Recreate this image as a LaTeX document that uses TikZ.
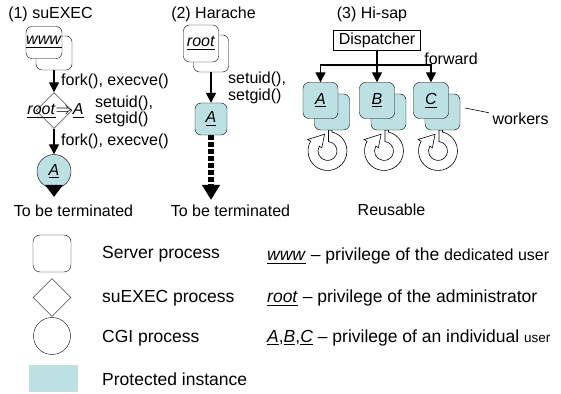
\documentclass[tikz,border=0pt]{standalone}
\usepackage{amsmath}
\usepackage{fontspec}
\setmainfont{Liberation Sans}
\usepackage{tikz}
\usetikzlibrary{positioning}
\usetikzlibrary{shapes.geometric}
\usetikzlibrary{arrows.meta}

\definecolor{instfill}{RGB}{189,224,227}

\begin{document}
\begin{tikzpicture}[x=1pt,y=1pt,font=\fontsize{16}{16}\selectfont,
        proc/.style={draw,rounded corners=6pt,inner sep=0pt,
            minimum width=36pt,minimum height=34pt},
        srv/.style={proc,fill=white},
        inst/.style={proc,fill=instfill},
        cgi/.style={circle,draw,fill=instfill,inner sep=0pt,minimum size=34pt},
        sux/.style={diamond,draw,inner sep=0pt,minimum width=36pt,minimum height=36pt},
        cyc/.style={draw,fill=white,line width=0.6pt},
        legtxt/.style={anchor=base west,inner sep=0pt,font=\fontsize{17.5}{17.5}\selectfont}]
        \useasboundingbox (0,0) rectangle (561,393);

        % titles
        \node (t1) at (50.5,379) {(1) suEXEC};
        \node (t2) at (213.5,379) {(2) Harache};
        \node (t3) at (372,379) {(3) Hi-sap};

        % (1) suEXEC
        \node[srv] (wwwb) at (54,340) {};
        \node[srv,minimum height=32pt] (www) at (44,350.5) {\underline{\textit{www}}};
        \node[sux] (dia) at (54,282.5) {};
        \node[inner sep=0pt] (diatxt) at (55.5,282) {\underline{\textit{root}}$\Rightarrow$\underline{\textit{A}}};
        \node[cgi] (cgi1) at (54,221.5) {\underline{\textit{A}}};
        \coordinate (end1) at (54,196);
        \node[anchor=west,inner sep=0pt] (fk1) at (61,312) {fork(), execve()};
        \node[anchor=west,inner sep=0pt] (fk2) at (61,251.5) {fork(), execve()};
        \node[anchor=west,inner sep=0pt,align=left] (su1) at (95,282) {setuid(),\\setgid()};
        \node (term1) at (73.5,182) {To be terminated};

        % (2) Harache
        \node[srv,minimum width=35pt,minimum height=37pt] (rootb) at (211,339.5) {};
        \node[srv,minimum width=35pt,minimum height=37pt] (root) at (201,349.5) {\underline{\textit{root}}};
        \node[inst,minimum width=32pt,minimum height=32pt] (inst1) at (211,274) {\underline{\textit{A}}};
        \coordinate (end2) at (211,193);
        \node[anchor=west,inner sep=0pt,align=left,font=\fontsize{16}{17}\selectfont] (su2) at (228,305.5) {setuid(),\\setgid()};
        \node (term2) at (230.5,182) {To be terminated};

        % (3) Hi-sap
        \node[draw,inner sep=0pt,minimum width=87pt,minimum height=20pt] (disp) at (377,353) {Dispatcher};
        \coordinate (bus) at (377,328);
        \node (fwd) at (451,334) {forward};

        % recycling loops under the workers
        \coordinate (ringA) at (327.5,242);
        \coordinate (ringB) at (384,242);
        \coordinate (ringC) at (438,242);
        \draw[cyc] ([shift={(1,21)}]ringA) -- ([shift={(84:9.5)}]ringA)
            arc[start angle=84,end angle=-210,radius=9.5]
            -- ([shift={(150:6.5)}]ringA) -- ([shift={(100:17)}]ringA)
            -- ([shift={(150:23)}]ringA) -- ([shift={(150:19.5)}]ringA)
            arc[start angle=-210,end angle=76.7,radius=19.5]
            -- ([shift={(4.5,21)}]ringA) -- cycle;
        \draw[cyc] ([shift={(1,21)}]ringB) -- ([shift={(84:9.5)}]ringB)
            arc[start angle=84,end angle=-210,radius=9.5]
            -- ([shift={(150:6.5)}]ringB) -- ([shift={(100:17)}]ringB)
            -- ([shift={(150:23)}]ringB) -- ([shift={(150:19.5)}]ringB)
            arc[start angle=-210,end angle=76.7,radius=19.5]
            -- ([shift={(4.5,21)}]ringB) -- cycle;
        \draw[cyc] ([shift={(1,21)}]ringC) -- ([shift={(84:9.5)}]ringC)
            arc[start angle=84,end angle=-210,radius=9.5]
            -- ([shift={(150:6.5)}]ringC) -- ([shift={(100:17)}]ringC)
            -- ([shift={(150:23)}]ringC) -- ([shift={(150:19.5)}]ringC)
            arc[start angle=-210,end angle=76.7,radius=19.5]
            -- ([shift={(4.5,21)}]ringC) -- cycle;

        \begin{scope}[every node/.style={inst,minimum width=35pt,minimum height=36pt}]
            \node (wab) at (332,281) {};
            \node (wa) at (320.5,292.5) {\underline{\textit{A}}};
            \node (wbb) at (388.5,281) {};
            \node (wb) at (377,292.5) {\underline{\textit{B}}};
            \node (wcb) at (442.5,281) {};
            \node (wc) at (431,292.5) {\underline{\textit{C}}};
        \end{scope}
        \coordinate (wk) at (465,285);
        \node (wklab) at (520.5,274) {workers};
        \node (reuse) at (391.5,183) {Reusable};

        % connectors
        \begin{scope}[every edge/.style={draw=black,line width=1.4pt},
            >={Triangle[width=10pt,length=10pt]}]
            \path [->] (wwwb) edge (dia);
            \path [->] (dia) edge (cgi1);
            \path [->] (rootb) edge (inst1);
            \path [-] (disp) edge (bus);
            \path [->] (bus) edge (wb);
            \draw [->,line width=1.4pt] (bus) -| (wa);
            \draw [->,line width=1.4pt] (bus) -| (wc);
        \end{scope}
        \draw [line width=4pt,-{Triangle[width=17pt,length=12pt]}] (cgi1) -- (end1);
        \draw [line width=5.5pt,dash pattern=on 4.5pt off 2.5pt,
            -{Triangle[width=17pt,length=15pt]}] (inst1) -- (end2);
        \draw [line width=0.6pt] (wk) -- (wklab);

        % legend
        \node[srv,minimum width=38pt,minimum height=37pt,rounded corners=7pt] (lsrv) at (52,139.5) {};
        \node[sux,minimum width=38pt,minimum height=38pt] (ldia) at (52,95.5) {};
        \node[circle,draw,minimum size=37pt] (lcgi) at (52,57) {};
        \node[fill=instfill,minimum width=49pt,minimum height=27pt] (lprot) at (53.5,14.5) {};

        \node[legtxt] (lt1) at (102,134) {Server process};
        \node[legtxt] (lt2) at (102,90) {suEXEC process};
        \node[legtxt] (lt3) at (102,50.5) {CGI process};
        \node[legtxt] (lt4) at (102,8) {Protected instance};

        \node[legtxt] (lr1) at (267,132) {\underline{\textit{www}} -- privilege of the {\fontsize{16}{16}\selectfont dedicated user}};
        \node[legtxt] (lr2) at (267,90) {\underline{\textit{root}} -- privilege of the administrator};
        \node[legtxt] (lr3) at (267,51) {\underline{\textit{A}},\underline{\textit{B}},\underline{\textit{C}} -- privilege of an individual {\fontsize{13.5}{14}\selectfont user}};
    \end{tikzpicture}
\end{document}
